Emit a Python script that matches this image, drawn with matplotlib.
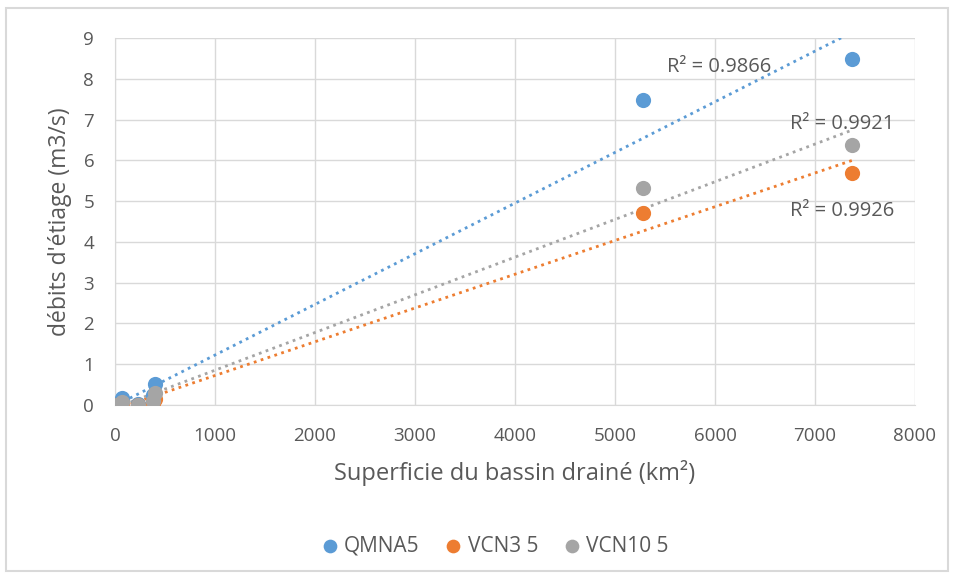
import numpy as np
import matplotlib
matplotlib.use("Agg")
import matplotlib.pyplot as plt
from matplotlib.patches import Rectangle

plt.rcParams['font.family'] = ['Open Sans', 'DejaVu Sans']

# superficie (km2) and low-flow values (m3/s)
superficie = [20, 70, 230, 380, 400, 5280, 7370]
qmna5 = [0.02, 0.18, 0.03, 0.25, 0.52, 7.48, 8.48]
vcn3_5 = [0.00, 0.05, 0.00, 0.05, 0.15, 4.70, 5.70]
vcn10_5 = [0.01, 0.08, 0.01, 0.10, 0.30, 5.33, 6.38]

series_names = ["QMNA5", "VCN3 5", "VCN10 5"]
r2_labels = ["R² = 0.9866", "R² = 0.9926", "R² = 0.9921"]
r2_pos = [(6040, 8.3), (7270, 4.75), (7270, 6.9)]
colors = ["#5B9BD5", "#ED7D31", "#A5A5A5"]

fig = plt.figure(figsize=(9.54, 5.78), dpi=100)
ax = fig.add_axes([115 / 954, 1 - 405 / 578, 800 / 954, 367 / 578])

x = np.array(superficie, dtype=float)
for vals, name, col in zip([qmna5, vcn3_5, vcn10_5], series_names, colors):
    ax.scatter(x, vals, s=120, color=col, label=name, zorder=3, linewidths=0)

# linear trendlines (least squares, like Excel)
for vals, col in zip([qmna5, vcn3_5, vcn10_5], colors):
    slope, inter = np.polyfit(x, vals, 1)
    xx = np.array([x.min(), x.max()])
    ax.plot(xx, slope * xx + inter, color=col, lw=2, ls=(0, (1, 1.6)),
            zorder=2)

for lab, (px, py) in zip(r2_labels, r2_pos):
    ax.text(px, py, lab, ha="center", va="center", fontsize=14.5,
            color="#595959", zorder=4)

ax.set_xlim(0, 8000)
ax.set_ylim(0, 9)
ax.set_xticks(range(0, 8001, 1000))
ax.set_yticks(range(0, 10))
ax.grid(True, color="#D9D9D9", lw=1)
ax.set_axisbelow(True)
for s in ["top", "right"]:
    ax.spines[s].set_visible(False)
for s in ["left", "bottom"]:
    ax.spines[s].set_color("#D9D9D9")
ax.tick_params(length=0, labelsize=13.5, colors="#595959")
ax.tick_params(axis="x", pad=16)
ax.tick_params(axis="y", pad=15)

ax.set_xlabel("Superficie du bassin drainé (km²)", fontsize=17,
              color="#595959", labelpad=11)
ax.set_ylabel("débits d'étiage (m3/s)", fontsize=16.5, color="#595959",
              labelpad=8)

fig.legend(loc="center", bbox_to_anchor=(495 / 954, 1 - 546 / 578), ncol=3,
           frameon=False, fontsize=15, labelcolor="#595959",
           handlelength=0.8, handletextpad=0.3, columnspacing=1.2,
           markerscale=0.9)

fig.patches.append(Rectangle((6 / 954, 1 - 571 / 578), 942 / 954, 563 / 578,
                             transform=fig.transFigure, fill=False,
                             edgecolor="#D9D9D9", lw=1.5))

fig.savefig("out.png", dpi=100)
